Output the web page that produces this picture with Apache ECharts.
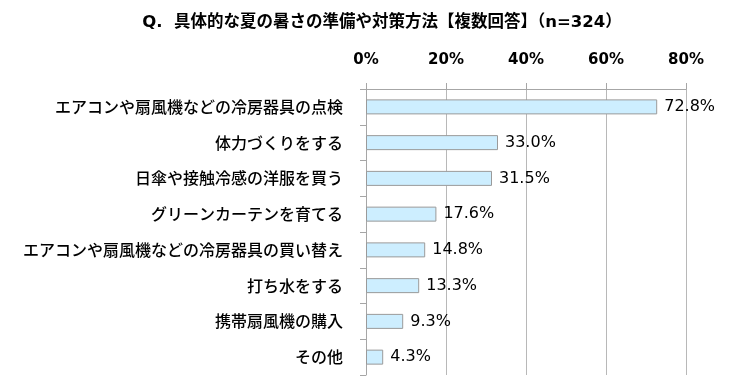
<!DOCTYPE html>
<html>
<head>
<meta charset="utf-8">
<script src="https://cdn.jsdelivr.net/npm/echarts@6/dist/echarts.min.js"></script>
<style>html,body{margin:0;padding:0;background:#fff;}#c{width:739px;height:392px;}</style>
</head>
<body>
<div id="c"></div>
<script>
const titleText = 'Q.  具体的な夏の暑さの準備や対策方法【複数回答】（n=324）';
const categories = [
  'エアコンや扇風機などの冷房器具の点検',
  '体力づくりをする',
  '日傘や接触冷感の洋服を買う',
  'グリーンカーテンを育てる',
  'エアコンや扇風機などの冷房器具の買い替え',
  '打ち水をする',
  '携帯扇風機の購入',
  'その他'
];
const values = [72.8, 33.0, 31.5, 17.6, 14.8, 13.3, 9.3, 4.3];
const xTicks = { min: 0, max: 80, interval: 20 };

const chart = echarts.init(document.getElementById('c'), null, { renderer: 'canvas' });
chart.setOption({
  animation: false,
  backgroundColor: '#fff',
  title: {
    text: titleText,
    left: 377,
    top: 9,
    textAlign: 'center',
    textStyle: { fontFamily: '"DejaVu Sans", "Noto Sans CJK JP"', fontSize: 16.5, fontWeight: 'bold', color: '#000' }
  },
  grid: { left: 366, right: 53, top: 89, bottom: 17, containLabel: false },
  xAxis: {
    type: 'value',
    position: 'top',
    min: xTicks.min, max: xTicks.max, interval: xTicks.interval,
    axisLine: { show: true, lineStyle: { color: '#a6a6a6', width: 1 } },
    axisTick: { show: true, length: 6, lineStyle: { color: '#a6a6a6' } },
    splitLine: { show: true, lineStyle: { color: '#b8b8b8', width: 1 } },
    axisLabel: {
      formatter: '{value}%', margin: 21,
      fontFamily: 'DejaVu Sans', fontSize: 15, fontWeight: 'bold', color: '#000'
    }
  },
  yAxis: {
    type: 'category',
    inverse: true,
    data: categories,
    axisLine: { show: true, lineStyle: { color: '#a6a6a6', width: 1 } },
    axisTick: { show: true, length: 6, lineStyle: { color: '#a6a6a6' } },
    axisLabel: {
      margin: 23,
      fontFamily: 'Noto Sans CJK JP', fontSize: 16, fontWeight: 500, color: '#000'
    }
  },
  series: [{
    type: 'bar',
    data: values,
    barWidth: 15,
    itemStyle: { color: '#cdeeff', borderColor: '#9a9a9a', borderWidth: 1 },
    label: {
      show: true, position: 'right', distance: 7,
      formatter: p => p.value.toFixed(1) + '%',
      fontFamily: 'DejaVu Sans', fontSize: 16, fontWeight: 'normal', color: '#000'
    }
  }]
});
</script>
</body>
</html>
